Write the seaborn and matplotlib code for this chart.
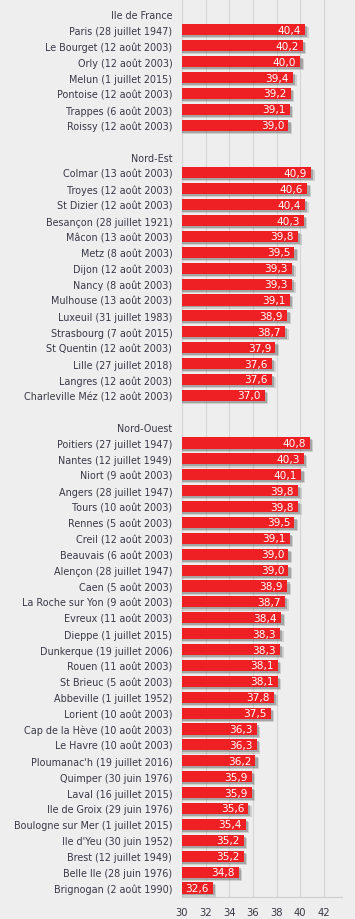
import pandas as pd
import seaborn as sns
import matplotlib.pyplot as plt
import matplotlib.patheffects as pe

# Records de chaleur par station, par région
idf_labels = ['Paris (28 juillet 1947)', 'Le Bourget (12 août 2003)', 'Orly (12 août 2003)',
              'Melun (1 juillet 2015)', 'Pontoise (12 août 2003)', 'Trappes (6 août 2003)',
              'Roissy (12 août 2003)']
idf_values = [40.4, 40.2, 40.0, 39.4, 39.2, 39.1, 39.0]

ne_labels = ['Colmar (13 août 2003)', 'Troyes (12 août 2003)', 'St Dizier (12 août 2003)',
             'Besançon (28 juillet 1921)', 'Mâcon (13 août 2003)', 'Metz (8 août 2003)',
             'Dijon (12 août 2003)', 'Nancy (8 août 2003)', 'Mulhouse (13 août 2003)',
             'Luxeuil (31 juillet 1983)', 'Strasbourg (7 août 2015)', 'St Quentin (12 août 2003)',
             'Lille (27 juillet 2018)', 'Langres (12 août 2003)', 'Charleville Méz (12 août 2003)']
ne_values = [40.9, 40.6, 40.4, 40.3, 39.8, 39.5, 39.3, 39.3, 39.1, 38.9, 38.7, 37.9, 37.6, 37.6, 37.0]

no_labels = ['Poitiers (27 juillet 1947)', 'Nantes (12 juillet 1949)', 'Niort (9 août 2003)',
             'Angers (28 juillet 1947)', 'Tours (10 août 2003)', 'Rennes (5 août 2003)',
             'Creil (12 août 2003)', 'Beauvais (6 août 2003)', 'Alençon (28 juillet 1947)',
             'Caen (5 août 2003)', 'La Roche sur Yon (9 août 2003)', 'Evreux (11 août 2003)',
             'Dieppe (1 juillet 2015)', 'Dunkerque (19 juillet 2006)', 'Rouen (11 août 2003)',
             'St Brieuc (5 août 2003)', 'Abbeville (1 juillet 1952)', 'Lorient (10 août 2003)',
             'Cap de la Hève (10 août 2003)', 'Le Havre (10 août 2003)',
             "Ploumanac'h (19 juillet 2016)", 'Quimper (30 juin 1976)', 'Laval (16 juillet 2015)',
             'Ile de Groix (29 juin 1976)', 'Boulogne sur Mer (1 juillet 2015)',
             "Ile d'Yeu (30 juin 1952)", 'Brest (12 juillet 1949)', 'Belle Ile (28 juin 1976)',
             'Brignogan (2 août 1990)']
no_values = [40.8, 40.3, 40.1, 39.8, 39.8, 39.5, 39.1, 39.0, 39.0, 38.9, 38.7, 38.4, 38.3, 38.3,
             38.1, 38.1, 37.8, 37.5, 36.3, 36.3, 36.2, 35.9, 35.9, 35.6, 35.4, 35.2, 35.2, 34.8, 32.6]

region_names = ['Ile de France', 'Nord-Est', 'Nord-Ouest']
x_ticks = [30, 32, 34, 36, 38, 40, 42]

df = pd.DataFrame({'station': idf_labels + ne_labels + no_labels,
                   'temp': idf_values + ne_values + no_values})

# header rows and blank rows are categories without a bar
order = [region_names[0]] + idf_labels + [' '] + [region_names[1]] + ne_labels + ['  '] \
        + [region_names[2]] + no_labels

bg = '#eeeeee'
txt = '#383846'
sns.set_style('whitegrid')
plt.rcParams['font.family'] = ['DejaVu Sans']

fig = plt.figure(figsize=(3.55, 9.2), dpi=100, facecolor=bg)
ax = fig.add_axes([0.5127, 0.0239, 0.4498, 0.9761])
ax.set_facecolor(bg)

sns.barplot(data=df, y='station', x='temp', order=order, color='#ee2024',
            saturation=1, width=0.7, errorbar=None, ax=ax, zorder=3)

# soft drop shadow, bottom right
for p in ax.patches:
    p.set_edgecolor('none')
    p.set_path_effects([pe.SimplePatchShadow(offset=(2.6, -2.2), shadow_rgbFace='#888888', alpha=0.3),
                        pe.SimplePatchShadow(offset=(1.6, -1.4), shadow_rgbFace='#555555', alpha=0.35),
                        pe.Normal()])

vals = [f'{v:.1f}'.replace('.', ',') for v in df['temp']]
texts = ax.bar_label(ax.containers[0], labels=vals, label_type='edge', padding=-3,
                     color='white', fontsize=7.6)
for t in texts:
    t.set_ha('right')

ax.set_xlim(30, 43.5)
ax.set_ylim(len(order) - 1 + 0.57, -0.94)
ax.set_xticks(x_ticks)
ax.set_xlabel('')
ax.set_ylabel('')
ax.grid(axis='x', color='#d6d6d6', linewidth=0.8, zorder=0)
ax.grid(axis='y', visible=False)
ax.tick_params(axis='y', length=0, pad=7, labelsize=6.9, labelcolor=txt)
ax.tick_params(axis='x', length=0, pad=7, labelsize=7.2, labelcolor=txt)

for s in ['top', 'right']:
    ax.spines[s].set_visible(False)
ax.spines['left'].set_color('#d6d6d6')
ax.spines['bottom'].set_color('#cccccc')
ax.spines['left'].set_linewidth(0.8)
ax.spines['bottom'].set_linewidth(0.8)

fig.savefig('out.png', dpi=100, facecolor=bg)
